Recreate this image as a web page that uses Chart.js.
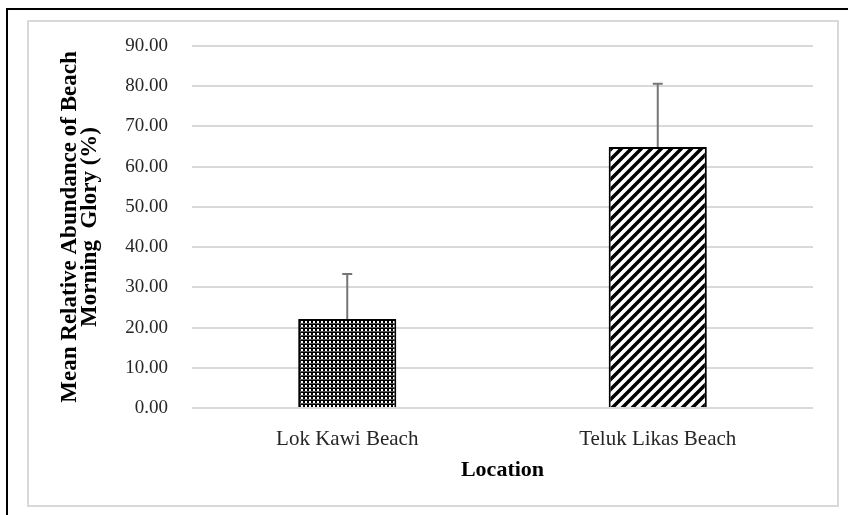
<!DOCTYPE html>
<html>
<head>
<meta charset="utf-8">
<script src="https://cdn.jsdelivr.net/npm/chart.js@4"></script>
<style>
  body { margin: 0; background: #fff; }
  #outer { position: absolute; left: 6px; top: 8px; width: 900px; height: 600px; border: 2px solid #000; }
  #inner { position: absolute; left: 27px; top: 20px; width: 808px; height: 483px; border: 2px solid #d9d9d9; }
  #wrap { position: absolute; left: 0; top: 0; width: 848px; height: 515px; }
</style>
</head>
<body>
<div id="outer"></div>
<div id="inner"></div>
<div id="wrap"><canvas id="chart" width="848" height="515"></canvas></div>
<script>
let locations = ['Lok Kawi Beach', 'Teluk Likas Beach'];
let meanAbundance = [22.1, 64.9];
let errorUp = [11.2, 15.7];
let yTitle = ['Mean Relative Abundance of Beach', 'Morning  Glory (%)'];
let xTitle = 'Location';

// fill patterns like the original print-style chart
function dotPattern() {
   let c = document.createElement('canvas');
   c.width = 4; c.height = 4;
   let g = c.getContext('2d');
   g.fillStyle = '#000';
   g.fillRect(0, 0, 4, 4);
   g.fillStyle = '#fff';
   g.fillRect(1, 1, 2, 2);
   g.fillStyle = '#555';
   g.fillRect(0, 3, 4, 1);
   return g.createPattern(c, 'repeat');
}

function stripePattern() {
   let s = 10;
   let c = document.createElement('canvas');
   c.width = s; c.height = s;
   let g = c.getContext('2d');
   g.fillStyle = '#fff';
   g.fillRect(0, 0, s, s);
   g.strokeStyle = '#000';
   g.lineWidth = 3.5;
   g.beginPath();
   g.moveTo(-s, 2 * s); g.lineTo(2 * s, -s);
   g.moveTo(-s, s); g.lineTo(s, -s);
   g.moveTo(0, 2 * s); g.lineTo(2 * s, 0);
   g.stroke();
   return g.createPattern(c, 'repeat');
}

let errorBars = {
   id: 'errorBars',
   afterDatasetsDraw(chart) {
      let ctx = chart.ctx;
      let y = chart.scales.y;
      let meta = chart.getDatasetMeta(0);
      ctx.save();
      ctx.strokeStyle = '#767676';
      ctx.lineWidth = 2;
      meta.data.forEach((bar, i) => {
         let top = y.getPixelForValue(meanAbundance[i] + errorUp[i]);
         let base = y.getPixelForValue(meanAbundance[i]);
         ctx.beginPath();
         ctx.moveTo(bar.x, base);
         ctx.lineTo(bar.x, top);
         ctx.moveTo(bar.x - 5, top);
         ctx.lineTo(bar.x + 5, top);
         ctx.stroke();
      });
      ctx.restore();
   }
};

let serif = 'Liberation Serif';

new Chart(document.getElementById('chart'), {
   type: 'bar',
   data: {
      labels: locations,
      datasets: [{
         data: meanAbundance,
         backgroundColor: [dotPattern(), stripePattern()],
         borderColor: '#000',
         borderWidth: 2,
         barPercentage: 0.316,
         categoryPercentage: 1
      }]
   },
   options: {
      responsive: false,
      animation: false,
      layout: { padding: { left: 28, top: 46, right: 35, bottom: 27 } },
      plugins: { legend: { display: false }, tooltip: { enabled: false } },
      scales: {
         y: {
            min: 0,
            max: 90,
            ticks: {
               stepSize: 10,
               padding: 24,
               color: '#262626',
               font: { family: serif, size: 19 },
               callback: v => v.toFixed(2)
            },
            grid: { color: '#d9d9d9', lineWidth: 2, drawTicks: false },
            border: { display: false },
            title: {
               display: true,
               text: yTitle,
               color: '#000',
               font: { family: serif, size: 23, weight: 'bold', lineHeight: 0.87 },
               padding: { top: 32, bottom: 0 }
            },
            afterFit(scale) { scale.width = 164; }
         },
         x: {
            ticks: {
               padding: 19,
               color: '#262626',
               font: { family: serif, size: 21 }
            },
            grid: { display: false, drawTicks: false },
            border: { display: false },
            title: {
               display: true,
               text: xTitle,
               color: '#000',
               font: { family: serif, size: 22, weight: 'bold' },
               padding: { top: 0, bottom: 4 }
            },
            afterFit(scale) { scale.height = 80; }
         }
      }
   },
   plugins: [errorBars]
});
</script>
</body>
</html>
